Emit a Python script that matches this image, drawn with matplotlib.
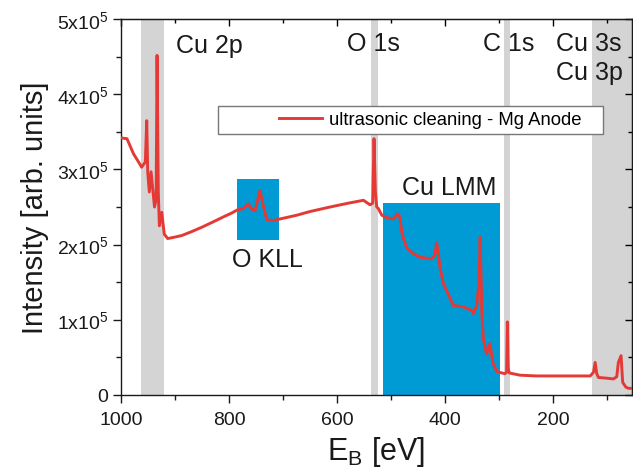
import matplotlib
matplotlib.use("Agg")
import matplotlib.pyplot as plt
from matplotlib.patches import Rectangle
from matplotlib.ticker import MultipleLocator, FuncFormatter

plt.rcParams['font.family'] = ['Liberation Sans', 'DejaVu Sans']
plt.rcParams['mathtext.default'] = 'regular'

# spectrum (binding energy eV, intensity counts)
energy = [1000, 989, 977, 965, 962, 955, 952.4, 950.6, 947.6, 944.4, 938, 935, 933.3,
          931, 929, 924.6, 920, 913.6, 900, 887.6, 870, 850.6, 830, 810, 795,
          785, 773.5, 764, 758, 752, 742.6, 736, 730, 718, 700, 675, 650, 613,
          580, 551, 539, 534, 531.5, 529, 526.5, 523.5, 517, 508, 496, 488,
          484, 480, 477, 471, 459, 446, 425, 419, 415.5, 411, 409, 403, 394,
          385, 366, 350, 347.6, 341.3, 337, 335, 333, 332, 329, 323, 316.7,
          311.7, 304, 295, 289, 286, 284.6, 283, 281, 261, 230, 199.5, 160,
          131, 125, 122, 119, 116, 100, 88, 82, 79, 74, 71, 65, 60, 54]
intensity = [3.42e5, 3.41e5, 3.21e5, 3.07e5, 3.03e5, 3.10e5, 3.65e5, 2.97e5, 2.70e5,
             2.97e5, 2.50e5, 2.60e5, 4.52e5, 2.70e5, 2.25e5, 2.43e5, 2.14e5, 2.08e5,
             2.10e5, 2.12e5, 2.17e5, 2.23e5, 2.30e5, 2.37e5, 2.42e5, 2.46e5, 2.48e5,
             2.54e5, 2.47e5, 2.45e5, 2.72e5, 2.50e5, 2.33e5, 2.32e5, 2.35e5, 2.39e5,
             2.44e5, 2.50e5, 2.55e5, 2.59e5, 2.53e5, 2.55e5, 3.41e5, 2.70e5, 2.50e5,
             2.48e5, 2.39e5, 2.36e5, 2.34e5, 2.41e5, 2.38e5, 2.16e5, 2.08e5, 1.96e5,
             1.88e5, 1.83e5, 1.81e5, 1.85e5, 2.03e5, 1.80e5, 1.68e5, 1.48e5, 1.34e5,
             1.19e5, 1.17e5, 1.12e5, 1.08e5, 1.19e5, 1.50e5, 2.10e5, 1.50e5, 1.10e5,
             0.74e5, 0.54e5, 0.68e5, 0.43e5, 0.31e5, 0.29e5, 0.28e5, 0.30e5, 0.97e5,
             0.35e5, 0.29e5, 0.26e5, 0.25e5, 0.25e5, 0.25e5, 0.25e5, 0.30e5, 0.43e5,
             0.28e5, 0.23e5, 0.22e5, 0.21e5, 0.24e5, 0.43e5, 0.52e5, 0.165e5, 0.10e5,
             0.085e5, 0.085e5]

# grey core-level regions (eV)
gray_bands = [(963, 920), (537, 525), (291, 279), (128, 40)]
# blue Auger regions: (high eV, low eV, bottom, top)
auger_boxes = [(785, 707, 2.06e5, 2.87e5), (515, 298, 0, 2.555e5)]

labels = ["Cu 2p", "O 1s", "C 1s", "Cu 3s", "Cu 3p", "Cu LMM", "O KLL"]
label_pos = [(898, 4.57e5), (582, 4.59e5), (329, 4.59e5), (194, 4.59e5),
             (194, 4.21e5), (480, 2.675e5), (795, 1.72e5)]

fig = plt.figure(figsize=(6.33, 4.77), dpi=100)
ax = fig.add_axes([0.1912, 0.1704, 0.807, 0.787])

for hi, lo in gray_bands:
    ax.axvspan(hi, lo, color='#d4d4d4', lw=0, zorder=0)
for hi, lo, b, t in auger_boxes:
    ax.add_patch(Rectangle((lo, b), hi - lo, t - b, facecolor='#009bd5',
                           edgecolor='none', zorder=1))

line, = ax.plot(energy, intensity, color='#e53935', lw=2.1, zorder=3,
                label='ultrasonic cleaning - Mg Anode')

for txt, (x, y) in zip(labels, label_pos):
    ax.text(x, y, txt, fontsize=18, ha='left', va='baseline', color='#1a1a1a', zorder=4)

# legend box drawn separately for its wide left padding
ax.add_patch(Rectangle((0.19, 0.695), 0.753, 0.074, transform=ax.transAxes,
                       facecolor='white', edgecolor='#777777', lw=1, zorder=5))
ax.legend(handles=[line], loc='center left', bbox_to_anchor=(0.31, 0.732),
          frameon=False, fontsize=13.3, handlelength=2.3, handletextpad=0.4,
          borderpad=0, borderaxespad=0).set_zorder(6)

ax.set_xlim(1000, 54)
ax.set_ylim(0, 5e5)
ax.xaxis.set_major_locator(MultipleLocator(200))
ax.xaxis.set_minor_locator(MultipleLocator(100))
ax.yaxis.set_major_locator(MultipleLocator(1e5))
ax.yaxis.set_minor_locator(MultipleLocator(0.5e5))
ax.yaxis.set_major_formatter(FuncFormatter(
    lambda v, p: '0' if v == 0 else '%dx10$^{5}$' % round(v / 1e5)))

ax.tick_params(which='both', direction='out', labelsize=14, width=1, colors='#1a1a1a')
ax.tick_params(which='major', length=6)
ax.tick_params(which='minor', length=3.5)
ax.tick_params(axis='x', pad=6)
ax.tick_params(axis='y', pad=3)
ax2 = ax.secondary_xaxis('top')
ax2.xaxis.set_major_locator(MultipleLocator(200))
ax2.xaxis.set_minor_locator(MultipleLocator(100))
ax2.tick_params(which='both', direction='in', labeltop=False, width=1)
ax2.tick_params(which='major', length=5)
ax2.tick_params(which='minor', length=3)
ax3 = ax.secondary_yaxis('right')
ax3.yaxis.set_major_locator(MultipleLocator(1e5))
ax3.yaxis.set_minor_locator(MultipleLocator(0.5e5))
ax3.tick_params(which='both', direction='in', labelright=False, width=1)
ax3.tick_params(which='major', length=5)
ax3.tick_params(which='minor', length=3)
for s in ax.spines.values():
    s.set_linewidth(1)
    s.set_color('#1a1a1a')

ax.set_xlabel('E$_B$ [eV]', fontsize=22, labelpad=4, color='#1a1a1a')
ax.set_ylabel('Intensity [arb. units]', fontsize=21, labelpad=6, color='#1a1a1a')

fig.savefig('out.png', dpi=100)
